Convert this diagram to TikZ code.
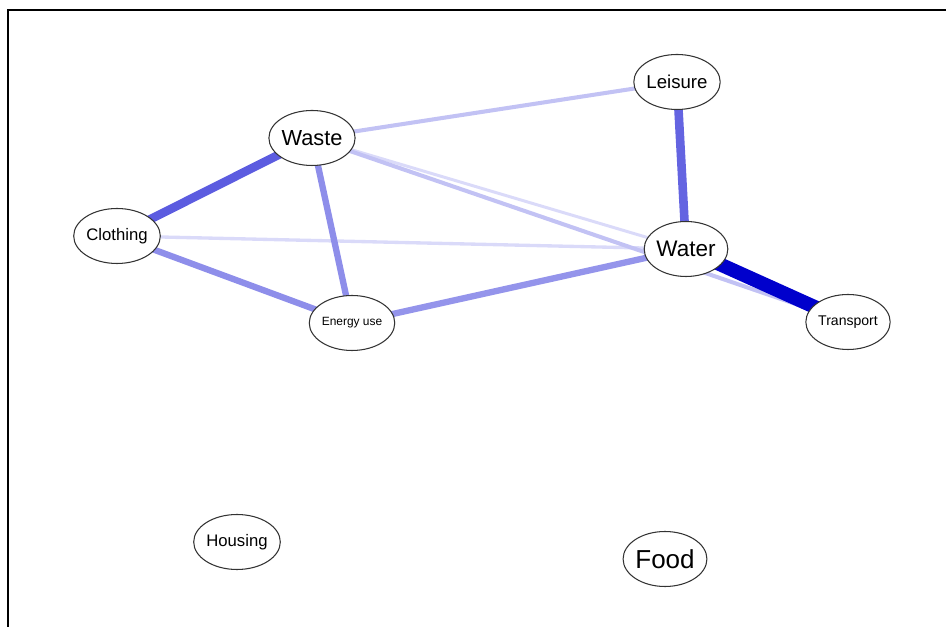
\documentclass[tikz,border=0pt]{standalone}
\usepackage{fontspec}
\setmainfont{Liberation Sans}
\usetikzlibrary{shapes.geometric,backgrounds}
\definecolor{tiedark}{HTML}{0000CC}
\definecolor{tiemid}{HTML}{5C5CE0}
\definecolor{tielow}{HTML}{8E8EEA}
\definecolor{tiefaint}{HTML}{C2C2F4}
\definecolor{tiepale}{HTML}{DADAF9}
\begin{document}
\begin{tikzpicture}[
	topic/.style={draw=black!80, fill=white, ellipse, minimum width=1.64cm, minimum height=1.1cm, inner sep=0pt, line width=0.6pt},
	fs/.style={font=\fontsize{#1}{#1}\selectfont}
]
	\useasboundingbox (0,0) rectangle (18.92,12.54);
	\draw [line width=1.1pt] (0.16,0) -- (0.16,12.34) -- (18.92,12.34);
	\node [topic, fs=10.6] (leis) at (13.54,10.90) {Leisure};
	\node [topic, fs=12.4] (wst) at (6.24,9.78) {Waste};
	\node [topic, fs=9.5] (clth) at (2.34,7.82) {Clothing};
	\node [topic, fs=12.8] (wtr) at (13.72,7.56) {Water};
	\node [topic, fs=6.8] (enrg) at (7.04,6.08) {Energy use};
	\node [topic, fs=8] (trns) at (16.96,6.10) {Transport};
	\node [topic, fs=9.5] (hsng) at (4.74,1.70) {Housing};
	\node [topic, fs=14.8] (food) at (13.30,1.36) {Food};
	\begin{scope}[on background layer]
		\draw [tiepale, line width=1.7pt] (wst.center) -- (wtr.center);
		\draw [tiepale, line width=1.9pt] (clth.center) -- (wtr.center);
		\draw [tiefaint, line width=2.3pt] (wst.center) -- (trns.center);
		\draw [tiefaint, line width=2.3pt] (wst.center) -- (leis.center);
		\draw [tielow, line width=3.6pt] (wst.center) -- (enrg.center);
		\draw [tielow, line width=3.6pt] (clth.center) -- (enrg.center);
		\draw [tielow!95!white, line width=3.6pt] (enrg.center) -- (wtr.center);
		\draw [tiemid, line width=4.9pt] (wst.center) -- (clth.center);
		\draw [tiemid!95!white, line width=4.9pt] (leis.center) -- (wtr.center);
		\draw [tiedark, line width=7.9pt] (wtr.center) -- (trns.center);
	\end{scope}
\end{tikzpicture}
\end{document}
